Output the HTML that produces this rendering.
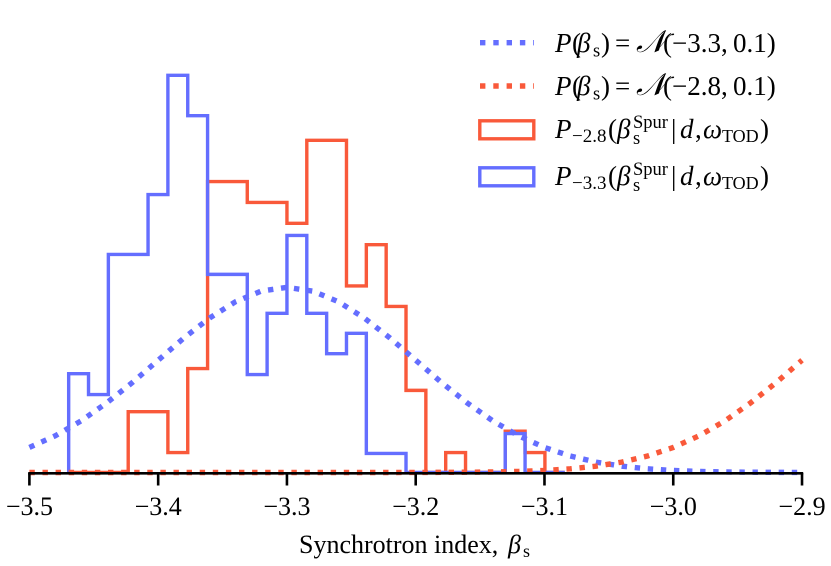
<!DOCTYPE html>
<html>
<head>
<meta charset="utf-8">
<style>
html,body{margin:0;padding:0;background:#fff;}
svg{display:block;}
text{font-family:"Liberation Serif","DejaVu Serif","DejaVu Sans",serif;fill:#000;}
.it{font-style:italic;}
</style>
</head>
<body>
<svg id="chart" xmlns="http://www.w3.org/2000/svg" width="831" height="566" viewBox="0 0 831 566">
  <g id="plot"></g>
  <line x1="28.2" x2="803.2" y1="473.3" y2="473.3" stroke="#000" stroke-width="2.6"/>
  <g id="ticks"></g>
  <text y="553" font-size="26"><tspan x="299">Synchrotron index,</tspan><tspan x="508" class="it">β</tspan><tspan x="523" y="557" font-size="18">s</tspan></text>
  <g>
    <line x1="480" x2="534" y1="42.7" y2="42.7" stroke="#646EFF" stroke-width="5.4" stroke-dasharray="5.4 7.9"/>
    <text y="52" font-size="27"><tspan x="555" class="it">P</tspan><tspan x="572">(</tspan><tspan x="577" class="it">β</tspan><tspan x="593" y="56.5" font-size="18.5">s</tspan><tspan x="601" y="52">)</tspan><tspan x="615">=</tspan><tspan x="636" font-size="31" class="it">𝒩</tspan><tspan x="663">(−3.3,</tspan><tspan x="733">0.1)</tspan></text>
    <line x1="480" x2="534" y1="86" y2="86" stroke="#F9593A" stroke-width="5.4" stroke-dasharray="5.4 7.9"/>
    <text y="95" font-size="27"><tspan x="555" class="it">P</tspan><tspan x="572">(</tspan><tspan x="577" class="it">β</tspan><tspan x="593" y="99.5" font-size="18.5">s</tspan><tspan x="601" y="95">)</tspan><tspan x="615">=</tspan><tspan x="636" font-size="31" class="it">𝒩</tspan><tspan x="663">(−2.8,</tspan><tspan x="733">0.1)</tspan></text>
    <rect x="479.8" y="120.8" width="54" height="18" fill="none" stroke="#F9593A" stroke-width="3.4"/>
    <text y="138" font-size="27"><tspan x="555" class="it">P</tspan><tspan x="572" y="142" font-size="19">−2.8</tspan><tspan x="608" y="138">(</tspan><tspan x="617" class="it">β</tspan><tspan x="633" y="144" font-size="18.5">s</tspan><tspan x="633" y="128" font-size="18.5">Spur</tspan><tspan x="671" y="138">|</tspan><tspan x="680" class="it">d</tspan><tspan x="695">,</tspan><tspan x="703" class="it">ω</tspan><tspan x="722" y="142" font-size="18">TOD</tspan><tspan x="760" y="138">)</tspan></text>
    <rect x="479.8" y="167.8" width="54" height="18" fill="none" stroke="#646EFF" stroke-width="3.4"/>
    <text y="185" font-size="27"><tspan x="555" class="it">P</tspan><tspan x="572" y="189" font-size="19">−3.3</tspan><tspan x="608" y="185">(</tspan><tspan x="617" class="it">β</tspan><tspan x="633" y="191" font-size="18.5">s</tspan><tspan x="633" y="175" font-size="18.5">Spur</tspan><tspan x="671" y="185">|</tspan><tspan x="680" class="it">d</tspan><tspan x="695">,</tspan><tspan x="703" class="it">ω</tspan><tspan x="722" y="189" font-size="18">TOD</tspan><tspan x="760" y="185">)</tspan></text>
  </g>
</svg>
<script>
const tickValues = [-3.5, -3.4, -3.3, -3.2, -3.1, -3.0, -2.9];
const tickLabels = ["−3.5", "−3.4", "−3.3", "−3.2", "−3.1", "−3.0", "−2.9"];
const histStart = -3.4695;
const histBinWidth = 0.01541;
const histBlue = [2.13,1.68,4.70,4.70,5.99,8.56,7.69,4.27,4.27,2.11,3.43,5.11,3.43,2.56,3.00,0.41,0.41,0,0,0,0,0,0.84,0,0];
const histRed = [0,0,0,1.31,1.31,0.43,2.24,6.27,6.27,5.82,5.82,5.37,7.16,7.16,4.02,4.91,3.58,1.77,0,0.43,0,0,0.89,0.43,0];
const curveStart = -3.5;
const curveStep = 0.02;
const curveBlue = [0.54,0.79,1.11,1.50,1.94,2.42,2.90,3.33,3.68,3.91,3.99,3.91,3.68,3.33,2.90,2.42,1.94,1.50,1.11,0.79,0.54,0.355,0.224,0.136,0.079,0.044,0.024,0.012,0.006,0.003,0.001];
const curveRed = [0,0,0,0,0,0,0,0,0,0,0,0,0,0,0,0.001,0.003,0.006,0.012,0.024,0.044,0.079,0.136,0.224,0.355,0.54,0.79,1.11,1.50,1.94,2.42];

const NS = "http://www.w3.org/2000/svg";
const xScale = v => 29.4 + (v + 3.5) * 1287.7;
const yScale = v => 472.5 - v * 46.4;
const plot = document.getElementById("plot");
const ticksGroup = document.getElementById("ticks");

function histPath(values) {
  let d = "";
  values.forEach((v, i) => {
    const x0 = xScale(histStart + i * histBinWidth);
    const x1 = xScale(histStart + (i + 1) * histBinWidth);
    d += (i === 0 ? "M" + x0.toFixed(2) + " " + yScale(0) + "L" : "L") + x0.toFixed(2) + " " + yScale(v).toFixed(2);
    d += "L" + x1.toFixed(2) + " " + yScale(v).toFixed(2);
  });
  const end = xScale(histStart + values.length * histBinWidth);
  return d + "L" + end.toFixed(2) + " " + yScale(0);
}
function curvePath(values) {
  return values.map((v, i) => {
    const x = xScale(curveStart + i * curveStep);
    return (i === 0 ? "M" : "L") + x.toFixed(2) + " " + yScale(v).toFixed(2);
  }).join("");
}
function addPath(d, color, width, dash) {
  const p = document.createElementNS(NS, "path");
  p.setAttribute("d", d);
  p.setAttribute("fill", "none");
  p.setAttribute("stroke", color);
  p.setAttribute("stroke-width", width);
  if (dash) p.setAttribute("stroke-dasharray", dash);
  else p.setAttribute("stroke-linejoin", "miter");
  plot.appendChild(p);
  return p;
}

const hr = addPath(histPath(histRed), "#F9593A", 3.4);


const hb = addPath(histPath(histBlue), "#646EFF", 3.4);


const cb = addPath(curvePath(curveBlue), "#646EFF", 5.4, "5.4 7.7");


const cr = addPath(curvePath(curveRed), "#F9593A", 5.4, "5.4 7.7");



tickValues.forEach((v, i) => {
  const l = document.createElementNS(NS, "line");
  l.setAttribute("x1", xScale(v));
  l.setAttribute("x2", xScale(v));
  l.setAttribute("y1", 473);
  l.setAttribute("y2", 485.5);
  l.setAttribute("stroke", "#000");
  l.setAttribute("stroke-width", 2.6);
  
  
  ticksGroup.appendChild(l);
  const t = document.createElementNS(NS, "text");
  t.setAttribute("x", xScale(v));
  t.setAttribute("y", 515);
  t.setAttribute("text-anchor", "middle");
  t.setAttribute("font-size", 26);
  t.textContent = tickLabels[i];
  
  
  ticksGroup.appendChild(t);
});
</script>
</body>
</html>
